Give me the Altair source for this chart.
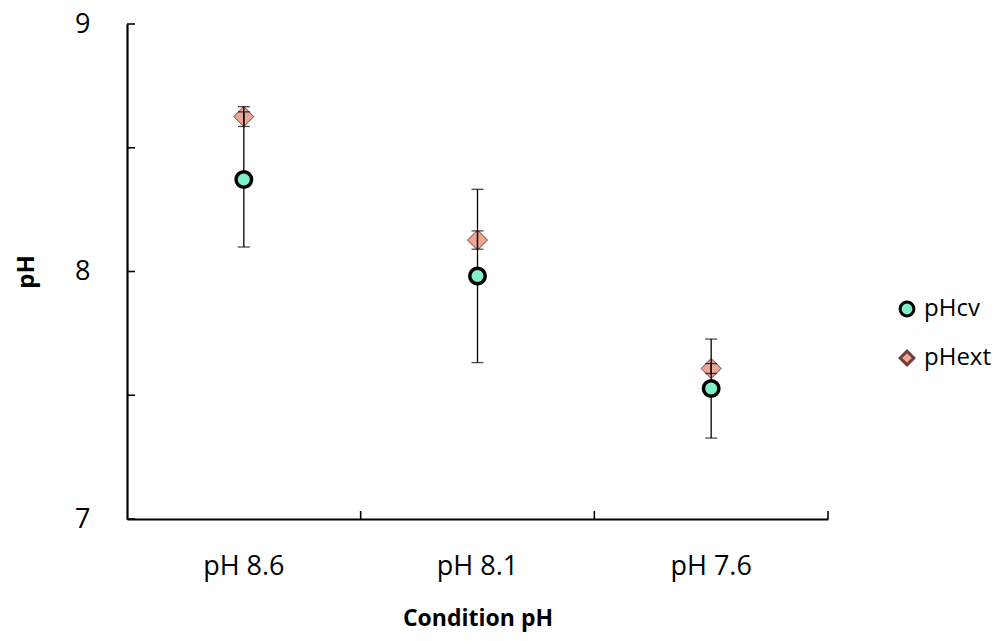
import altair as alt
import pandas as pd

conditions = ["pH 8.6", "pH 8.1", "pH 7.6"]
series = ["pHcv", "pHext"]
pHcv_mean = [8.372, 7.982, 7.527]
pHcv_err = [0.273, 0.35, 0.20]
pHext_mean = [8.626, 8.127, 7.608]
pHext_err = [0.04, 0.037, 0.02]
y_ticks = [7, 7.5, 8, 8.5, 9]

rows = []
for c, m, e in zip(conditions, pHcv_mean, pHcv_err):
    rows.append({"cond": c, "series": "pHcv", "mean": m, "lo": m - e, "hi": m + e})
for c, m, e in zip(conditions, pHext_mean, pHext_err):
    rows.append({"cond": c, "series": "pHext", "mean": m, "lo": m - e, "hi": m + e})
df = pd.DataFrame(rows)
ticks_df = pd.DataFrame({"v": y_ticks})
cond_df = pd.DataFrame({"cond": conditions})

W, H = 701, 495
FONT = "Open Sans"

xscale = alt.Scale(domain=conditions, paddingInner=0, paddingOuter=0)
yscale = alt.Scale(domain=[7, 9], nice=False, zero=False)

x_axis = alt.Axis(title="Condition pH", labelAngle=0, labelAlign="center", ticks=False,
                  labelFontSize=27, labelPadding=34, titleFontSize=23,
                  titleFontWeight="bold", titlePadding=28,
                  domainColor="black", domainWidth=2.2,
                  labelFont=FONT, titleFont=FONT, labelColor="black",
                  titleColor="black")
y_axis = alt.Axis(title="pH", values=y_ticks, ticks=False,
                  labelExpr="datum.value % 1 == 0 ? format(datum.value, 'd') : ''",
                  labelFontSize=27, labelPadding=37, titleFontSize=24,
                  titleFontWeight="bold", titlePadding=36, labelAlign="right",
                  labelOverlap=False, labelFlush=False,
                  domainColor="black", domainWidth=2.2, grid=False,
                  labelFont=FONT, titleFont=FONT, labelColor="black",
                  titleColor="black")


def X(**kw):
    return alt.X("cond:N", scale=xscale, sort=conditions, axis=x_axis, title="Condition pH", **kw)


def Y(field):
    return alt.Y(field, scale=yscale, axis=y_axis, title="pH")


color_scale = alt.Scale(domain=series, range=["#80f0c6", "#eba696"])
shape_scale = alt.Scale(domain=series, range=["circle", "diamond"])
stroke_scale = alt.Scale(domain=series, range=["#000000", "#6e4038"])

base = alt.Chart(df)

diamonds = base.transform_filter(alt.datum.series == "pHext").mark_point(
    filled=True, size=400, strokeWidth=1, opacity=1
).encode(
    x=X(), y=Y("mean:Q"),
    shape=alt.Shape("series:N", scale=shape_scale, legend=None),
    fill=alt.Fill("series:N", scale=color_scale, legend=None),
    stroke=alt.Stroke("series:N", scale=stroke_scale, legend=None),
)

err = base.mark_rule(color="black", strokeWidth=1.3).encode(
    x=X(), y=Y("lo:Q"), y2="hi:Q",
)
cap_lo = base.mark_tick(color="black", thickness=1.3, size=12).encode(
    x=X(), y=Y("lo:Q"),
)
cap_hi = base.mark_tick(color="black", thickness=1.3, size=12).encode(
    x=X(), y=Y("hi:Q"),
)

circles = base.transform_filter(alt.datum.series == "pHcv").mark_point(
    filled=True, size=240, strokeWidth=3.5, opacity=1
).encode(
    x=X(), y=Y("mean:Q"),
    shape=alt.Shape("series:N", scale=shape_scale, legend=None),
    fill=alt.Fill("series:N", scale=color_scale, legend=None),
    stroke=alt.Stroke("series:N", scale=stroke_scale, legend=None),
)

legend_layer = base.mark_point(filled=True, opacity=0, size=0).encode(
    x=X(), y=Y("mean:Q"),
    shape=alt.Shape("series:N", scale=shape_scale,
                    legend=alt.Legend(title=None, orient="none", legendX=768, legendY=273,
                                      labelFontSize=24, labelFont=FONT, labelColor="black",
                                      symbolSize=190, symbolStrokeWidth=3,
                                      symbolOpacity=1, rowPadding=23, labelOffset=5)),
    fill=alt.Fill("series:N", scale=color_scale),
    stroke=alt.Stroke("series:N", scale=stroke_scale),
)

yticks = alt.Chart(ticks_df).mark_rule(color="black", strokeWidth=1.6).encode(
    y=Y("v:Q"),
    x=alt.value(0), x2=alt.value(8),
)
xticks = alt.Chart(cond_df).mark_rule(color="black", strokeWidth=1.6).encode(
    x=X(bandPosition=1),
    y=alt.value(H - 8), y2=alt.value(H),
)

chart = alt.layer(legend_layer, yticks, xticks, diamonds, err, cap_lo, cap_hi, circles).properties(
    width=W, height=H,
    autosize=alt.AutoSizeParams(type="none"),
    padding={"left": 119, "top": 16, "right": 165, "bottom": 114},
).configure(background="white").configure_view(stroke=None, strokeWidth=0).configure_axis(
    labelOverlap=False
)

chart.save("out.html", embed_options={"renderer": "svg", "actions": False})
